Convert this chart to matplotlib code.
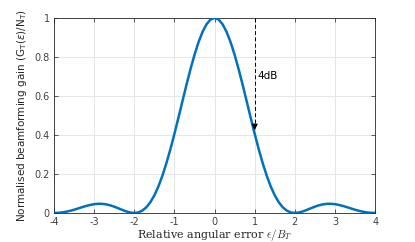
import numpy as np
import matplotlib.pyplot as plt

# relative angular error (step 0.1) and normalised gain
err = np.linspace(-4, 4, 81)
gain = [0.0, 0.0007, 0.0027, 0.0061, 0.0108, 0.0165, 0.0230, 0.0296, 0.0358, 0.0411,
        0.0450, 0.0470, 0.0468, 0.0441, 0.0392, 0.0324, 0.0243, 0.0158, 0.0080, 0.0023,
        0.0, 0.0028, 0.0119, 0.0289, 0.0547, 0.0901, 0.1353, 0.1904, 0.2546, 0.3268,
        0.4053, 0.4881, 0.5728, 0.6566, 0.7368, 0.8106, 0.8751, 0.9281, 0.9675, 0.9918,
        1.0,
        0.9918, 0.9675, 0.9281, 0.8751, 0.8106, 0.7368, 0.6566, 0.5728, 0.4881, 0.4053,
        0.3268, 0.2546, 0.1904, 0.1353, 0.0901, 0.0547, 0.0289, 0.0119, 0.0028, 0.0,
        0.0023, 0.0080, 0.0158, 0.0243, 0.0324, 0.0392, 0.0441, 0.0468, 0.0470, 0.0450,
        0.0411, 0.0358, 0.0296, 0.0230, 0.0165, 0.0108, 0.0061, 0.0027, 0.0007, 0.0]
xticks = [-4, -3, -2, -1, 0, 1, 2, 3, 4]
yticks = [0, 0.2, 0.4, 0.6, 0.8, 1]
ytick_labels = ['0', '0.2', '0.4', '0.6', '0.8', '1']

fig = plt.figure(figsize=(4.15, 2.42), dpi=100)
ax = fig.add_axes([0.130, 0.120, 0.774, 0.806])

ax.plot(err, gain, color='#0072BD', lw=1.8, zorder=3)

# 4dB arrow
ax.plot([1, 1], [1, 0.45], color='k', lw=0.7, ls=(0, (4, 2.5)), zorder=4)
ax.annotate('', xy=(1, 0.41), xytext=(1, 0.47),
            arrowprops=dict(arrowstyle='-|>', color='k', lw=0.7, mutation_scale=9),
            zorder=4)
ax.text(1.08, 0.70, '4dB', fontsize=7.5, color='k', va='center')

ax.set_xlim(-4, 4)
ax.set_ylim(0, 1)
ax.set_xticks(xticks)
ax.set_xticklabels([str(t) for t in xticks])
ax.set_yticks(yticks)
ax.set_yticklabels(ytick_labels)
ax.grid(True, color='#e6e6e6', lw=0.7)
ax.set_axisbelow(True)
ax.tick_params(direction='in', top=True, right=True, labelsize=7, colors='#404040',
               length=3, width=0.6, pad=3)
for s in ax.spines.values():
    s.set_color('#262626')
    s.set_linewidth(0.6)

ax.set_xlabel(r'Relative angular error $\epsilon/B_T$', fontsize=8, family='serif',
              math_fontfamily='cm', color='#262626', labelpad=0)
ax.set_ylabel(r'Normalised beamforming gain (G$_\mathregular{T}$($\epsilon$)/N$_\mathregular{T}$)',
              fontsize=7.5, color='#262626', labelpad=4)

fig.savefig('out.png', dpi=100)
